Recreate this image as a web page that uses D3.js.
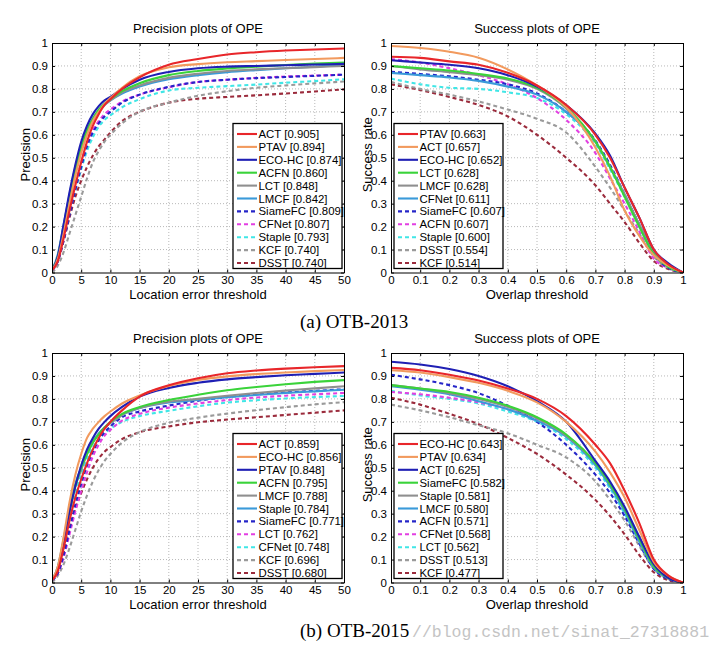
<!DOCTYPE html>
<html><head><meta charset="utf-8">
<script src="https://cdn.jsdelivr.net/npm/d3@7"></script>
<style>body{margin:0;background:#fff} svg{display:block}</style>
</head><body><svg id="c" width="724" height="648"></svg>
<script>
// ---------- data ----------
const precX = [0,1,2,3,4,5,6,7,8,9,10,12,15,20,25,30,35,40,45,50];
const succX = [0,0.1,0.2,0.3,0.4,0.5,0.6,0.7,0.75,0.8,0.85,0.9,0.95,1];
const precTicks = [0,5,10,15,20,25,30,35,40,45,50];
const succTicks = [0,0.1,0.2,0.3,0.4,0.5,0.6,0.7,0.8,0.9,1];
const yTicks = [0,0.1,0.2,0.3,0.4,0.5,0.6,0.7,0.8,0.9,1];
const seriesColors = ["#e8262a","#f29a5e","#1f1fb4","#3ad33a","#8f8f8f","#3a9ad9","#2525c8","#e23fe2","#40e6e6","#9a9a9a","#9b2b3c"];
const seriesDashed = [false,false,false,false,false,false,true,true,true,true,true];

const p13Names = ["ACT","PTAV","ECO-HC","ACFN","LCT","LMCF","SiameFC","CFNet","Staple","KCF","DSST"];
const p13Scores = ["0.905","0.894","0.874","0.860","0.848","0.842","0.809","0.807","0.793","0.740","0.740"];
const p13Values = [
  [0.01,0.05,0.15,0.27,0.38,0.48,0.57,0.64,0.69,0.73,0.755,0.80,0.85,0.905,0.930,0.950,0.960,0.967,0.972,0.976],
  [0.01,0.06,0.17,0.30,0.42,0.52,0.60,0.66,0.70,0.735,0.76,0.805,0.855,0.894,0.908,0.916,0.921,0.926,0.930,0.935],
  [0.01,0.07,0.21,0.35,0.47,0.57,0.64,0.69,0.725,0.75,0.765,0.80,0.84,0.874,0.89,0.897,0.900,0.903,0.906,0.909],
  [0.01,0.07,0.20,0.33,0.45,0.55,0.62,0.67,0.71,0.735,0.755,0.79,0.825,0.860,0.878,0.889,0.897,0.904,0.910,0.915],
  [0.01,0.07,0.20,0.33,0.45,0.54,0.61,0.665,0.70,0.73,0.75,0.785,0.815,0.848,0.866,0.878,0.885,0.890,0.895,0.900],
  [0.01,0.08,0.21,0.34,0.46,0.55,0.62,0.67,0.705,0.73,0.75,0.78,0.81,0.842,0.860,0.873,0.882,0.890,0.897,0.905],
  [0.01,0.05,0.14,0.25,0.36,0.46,0.55,0.61,0.65,0.68,0.70,0.74,0.775,0.809,0.830,0.840,0.847,0.852,0.857,0.862],
  [0.01,0.05,0.15,0.27,0.38,0.48,0.56,0.62,0.66,0.69,0.71,0.745,0.775,0.807,0.830,0.840,0.848,0.854,0.858,0.862],
  [0.01,0.05,0.15,0.26,0.36,0.45,0.53,0.59,0.635,0.665,0.685,0.72,0.755,0.793,0.805,0.812,0.819,0.827,0.834,0.842],
  [0.00,0.03,0.09,0.17,0.25,0.33,0.41,0.48,0.53,0.57,0.60,0.65,0.70,0.740,0.770,0.790,0.805,0.815,0.824,0.832],
  [0.01,0.05,0.14,0.24,0.33,0.40,0.46,0.51,0.55,0.58,0.61,0.66,0.70,0.740,0.757,0.765,0.772,0.780,0.789,0.798]
];

const s13Names = ["PTAV","ACT","ECO-HC","LCT","LMCF","CFNet","SiameFC","ACFN","Staple","DSST","KCF"];
const s13Scores = ["0.663","0.657","0.652","0.628","0.628","0.611","0.607","0.607","0.600","0.554","0.514"];
const s13Values = [
  [0.94,0.935,0.92,0.905,0.87,0.815,0.73,0.60,0.50,0.37,0.24,0.10,0.035,0],
  [0.987,0.978,0.962,0.936,0.885,0.815,0.72,0.545,0.42,0.27,0.16,0.075,0.03,0],
  [0.925,0.915,0.905,0.89,0.86,0.81,0.73,0.605,0.51,0.37,0.24,0.10,0.04,0],
  [0.90,0.89,0.88,0.865,0.845,0.805,0.72,0.57,0.46,0.33,0.20,0.08,0.025,0],
  [0.90,0.885,0.873,0.86,0.84,0.80,0.715,0.57,0.46,0.34,0.21,0.085,0.03,0],
  [0.87,0.86,0.85,0.835,0.81,0.775,0.70,0.57,0.46,0.34,0.21,0.09,0.03,0],
  [0.875,0.865,0.855,0.84,0.82,0.78,0.70,0.575,0.47,0.34,0.21,0.08,0.02,0],
  [0.93,0.915,0.89,0.86,0.82,0.76,0.665,0.52,0.41,0.30,0.18,0.06,0.02,0],
  [0.845,0.82,0.805,0.80,0.785,0.76,0.69,0.56,0.45,0.33,0.20,0.08,0.03,0],
  [0.83,0.80,0.775,0.745,0.71,0.67,0.61,0.46,0.37,0.27,0.17,0.07,0.02,0],
  [0.82,0.795,0.765,0.73,0.68,0.60,0.50,0.38,0.30,0.22,0.13,0.05,0.015,0]
];

const p15Names = ["ACT","ECO-HC","PTAV","ACFN","LMCF","Staple","SiameFC","LCT","CFNet","KCF","DSST"];
const p15Scores = ["0.859","0.856","0.848","0.795","0.788","0.784","0.771","0.762","0.748","0.696","0.680"];
const p15Values = [
  [0.01,0.05,0.15,0.27,0.37,0.45,0.52,0.58,0.63,0.67,0.70,0.75,0.81,0.859,0.890,0.912,0.924,0.932,0.938,0.943],
  [0.01,0.07,0.20,0.35,0.47,0.56,0.63,0.67,0.70,0.725,0.745,0.78,0.815,0.856,0.882,0.898,0.908,0.915,0.921,0.926],
  [0.01,0.06,0.18,0.31,0.42,0.51,0.58,0.63,0.67,0.70,0.725,0.765,0.81,0.848,0.870,0.885,0.895,0.903,0.909,0.915],
  [0.01,0.06,0.18,0.31,0.42,0.50,0.56,0.61,0.645,0.675,0.70,0.735,0.765,0.795,0.818,0.838,0.852,0.864,0.874,0.882],
  [0.01,0.06,0.18,0.31,0.42,0.49,0.56,0.61,0.645,0.675,0.695,0.73,0.76,0.788,0.800,0.814,0.826,0.836,0.846,0.855],
  [0.01,0.07,0.19,0.32,0.43,0.50,0.57,0.615,0.65,0.675,0.695,0.73,0.76,0.784,0.795,0.807,0.817,0.826,0.833,0.840],
  [0.01,0.04,0.12,0.23,0.34,0.43,0.51,0.57,0.62,0.655,0.68,0.72,0.745,0.771,0.792,0.808,0.819,0.828,0.835,0.842],
  [0.01,0.04,0.11,0.21,0.31,0.40,0.48,0.55,0.60,0.64,0.665,0.705,0.735,0.762,0.780,0.795,0.806,0.814,0.820,0.826],
  [0.01,0.06,0.17,0.29,0.39,0.47,0.54,0.59,0.625,0.65,0.67,0.70,0.725,0.748,0.768,0.784,0.794,0.802,0.808,0.813],
  [0.00,0.03,0.08,0.15,0.23,0.31,0.38,0.44,0.49,0.53,0.56,0.61,0.655,0.696,0.718,0.736,0.751,0.764,0.776,0.786],
  [0.01,0.05,0.13,0.23,0.32,0.39,0.45,0.50,0.54,0.57,0.59,0.625,0.655,0.680,0.698,0.710,0.720,0.730,0.740,0.750]
];

const s15Names = ["ECO-HC","PTAV","ACT","SiameFC","Staple","LMCF","ACFN","CFNet","LCT","DSST","KCF"];
const s15Scores = ["0.643","0.634","0.625","0.582","0.581","0.580","0.571","0.568","0.562","0.513","0.477"];
const s15Values = [
  [0.935,0.925,0.905,0.88,0.845,0.80,0.725,0.60,0.52,0.40,0.26,0.10,0.03,0],
  [0.925,0.915,0.895,0.87,0.835,0.785,0.70,0.57,0.48,0.37,0.23,0.09,0.03,0],
  [0.962,0.95,0.93,0.90,0.855,0.79,0.70,0.53,0.44,0.33,0.20,0.08,0.02,0],
  [0.86,0.845,0.83,0.805,0.77,0.72,0.645,0.52,0.43,0.32,0.19,0.07,0.02,0],
  [0.86,0.845,0.825,0.80,0.765,0.715,0.64,0.52,0.43,0.32,0.19,0.07,0.02,0],
  [0.855,0.84,0.82,0.79,0.755,0.705,0.635,0.51,0.42,0.31,0.18,0.065,0.02,0],
  [0.905,0.885,0.86,0.825,0.77,0.70,0.60,0.47,0.39,0.29,0.17,0.06,0.015,0],
  [0.83,0.82,0.805,0.785,0.755,0.71,0.64,0.52,0.43,0.32,0.19,0.07,0.02,0],
  [0.835,0.815,0.80,0.78,0.745,0.70,0.625,0.50,0.41,0.30,0.18,0.065,0.02,0],
  [0.775,0.75,0.72,0.685,0.65,0.60,0.545,0.44,0.36,0.27,0.16,0.06,0.015,0],
  [0.805,0.775,0.735,0.69,0.63,0.56,0.47,0.36,0.29,0.21,0.12,0.045,0.01,0]
];

const titles = ["Precision plots of OPE","Success plots of OPE"];
const xLabels = ["Location error threshold","Overlap threshold"];
const yLabels = ["Precision","Success rate"];
const captions = ["(a) OTB-2013","(b) OTB-2015"];
const watermark = "//blog.csdn.net/sinat_27318881";

// ---------- drawing ----------
const FONT = "'Liberation Sans', Arial, Helvetica, sans-serif";
const svg = d3.select("#c");
const W = 292, H = 229.5;
const TICK_FS = 11.5;

const panels = [
  {left:52,  top:43,  kind:0, xs:precX, ticks:precTicks, dom:[0,50], names:p13Names, scores:p13Scores, vals:p13Values},
  {left:391, top:43,  kind:1, xs:succX, ticks:succTicks, dom:[0,1],  names:s13Names, scores:s13Scores, vals:s13Values},
  {left:52,  top:353, kind:0, xs:precX, ticks:precTicks, dom:[0,50], names:p15Names, scores:p15Scores, vals:p15Values},
  {left:391, top:353, kind:1, xs:succX, ticks:succTicks, dom:[0,1],  names:s15Names, scores:s15Scores, vals:s15Values}
];

panels.forEach((p, pi) => {
  const g = svg.append("g");
  const x = d3.scaleLinear().domain(p.dom).range([p.left, p.left + W]);
  const y = d3.scaleLinear().domain([0, 1]).range([p.top + H, p.top]);

  // grid
  g.selectAll(null).data(p.ticks.slice(1, -1)).enter().append("line")
    .attr("x1", d => x(d)).attr("x2", d => x(d)).attr("y1", p.top).attr("y2", p.top + H)
    .attr("stroke", "#b8b8b8").attr("stroke-width", 1).attr("stroke-dasharray", "1,2");
  g.selectAll(null).data(yTicks.slice(1, -1)).enter().append("line")
    .attr("y1", d => y(d)).attr("y2", d => y(d)).attr("x1", p.left).attr("x2", p.left + W)
    .attr("stroke", "#b8b8b8").attr("stroke-width", 1).attr("stroke-dasharray", "1,2");

  // curves
  const clipId = "clip" + pi;
  svg.append("clipPath").attr("id", clipId).append("rect")
    .attr("x", p.left).attr("y", p.top - 2).attr("width", W).attr("height", H + 2);
  const line = d3.line().x((d, i) => x(p.xs[i])).y(d => y(d)).curve(d3.curveMonotoneX);
  const cg = g.append("g").attr("clip-path", `url(#${clipId})`);
  for (let i = p.vals.length - 1; i >= 0; i--) {
    cg.append("path").attr("d", line(p.vals[i])).attr("fill", "none")
      .attr("stroke", seriesColors[i]).attr("stroke-width", 2.1)
      .attr("stroke-dasharray", seriesDashed[i] ? "4,3" : null);
  }

  // axes
  const styleAxis = sel => {
    sel.attr("font-family", FONT).attr("font-size", TICK_FS);
    sel.selectAll("path,line").attr("stroke", "#000");
    sel.selectAll("text").attr("fill", "#000");
  };
  g.append("g").attr("transform", `translate(0,${p.top + H})`)
    .call(d3.axisBottom(x).tickValues(p.ticks).tickFormat(d3.format("~g")).tickSizeInner(-3).tickSizeOuter(0).tickPadding(3.3))
    .call(styleAxis);
  g.append("g").attr("transform", `translate(0,${p.top})`)
    .call(d3.axisTop(x).tickValues(p.ticks).tickFormat("").tickSizeInner(-3).tickSizeOuter(0))
    .call(styleAxis);
  g.append("g").attr("transform", `translate(${p.left},0)`)
    .call(d3.axisLeft(y).tickValues(yTicks).tickFormat(d3.format("~g")).tickSizeInner(-3).tickSizeOuter(0).tickPadding(4))
    .call(styleAxis);
  g.append("g").attr("transform", `translate(${p.left + W},0)`)
    .call(d3.axisRight(y).tickValues(yTicks).tickFormat("").tickSizeInner(-3).tickSizeOuter(0))
    .call(styleAxis);

  // title & labels
  g.append("text").attr("x", p.left + W / 2).attr("y", p.top - 10.5).attr("text-anchor", "middle")
    .attr("font-family", FONT).attr("font-size", 13).text(titles[p.kind]);
  g.append("text").attr("x", p.left + W / 2).attr("y", p.top + H + 26).attr("text-anchor", "middle")
    .attr("font-family", FONT).attr("font-size", 13).text(xLabels[p.kind]);
  const ylx = p.kind === 0 ? p.left - 22.5 : p.left - 19.5;
  g.append("text").attr("transform", `translate(${ylx},${p.top + H / 2 - 3}) rotate(-90)`)
    .attr("text-anchor", "middle").attr("font-family", FONT).attr("font-size", 13).text(yLabels[p.kind]);

  // legend
  const lw = 109, lh = 145;
  const lx = p.kind === 0 ? p.left + W - 2 - lw : p.left + 3;
  const ly = p.top + H - 4 - lh;
  const lg = g.append("g");
  lg.append("rect").attr("x", lx).attr("y", ly).attr("width", lw).attr("height", lh)
    .attr("fill", "#fff").attr("stroke", "#000").attr("stroke-width", 1.3);
  p.names.forEach((n, i) => {
    const cy = ly + 10.5 + i * 12.9;
    lg.append("line").attr("x1", lx + 4).attr("x2", lx + 24).attr("y1", cy).attr("y2", cy)
      .attr("stroke", seriesColors[i]).attr("stroke-width", 2.1)
      .attr("stroke-dasharray", seriesDashed[i] ? "4,3" : null);
    lg.append("text").attr("x", lx + 25.5).attr("y", cy + 4).attr("font-family", FONT)
      .attr("font-size", 11.4).text(`${n} [${p.scores[i]}]`);
  });
});

// captions
svg.append("text").attr("x", 300).attr("y", 328).attr("font-family", "'Liberation Serif', 'Times New Roman', serif")
  .attr("font-size", 19).text(captions[0]);
svg.append("text").attr("x", 412).attr("y", 637).attr("font-family", "'Liberation Mono', 'DejaVu Sans Mono', monospace")
  .attr("font-size", 16.5).attr("fill", "#c4c4c4").text(watermark);
svg.append("text").attr("x", 300).attr("y", 637).attr("font-family", "'Liberation Serif', 'Times New Roman', serif")
  .attr("font-size", 19).text(captions[1]);
</script></body></html>
